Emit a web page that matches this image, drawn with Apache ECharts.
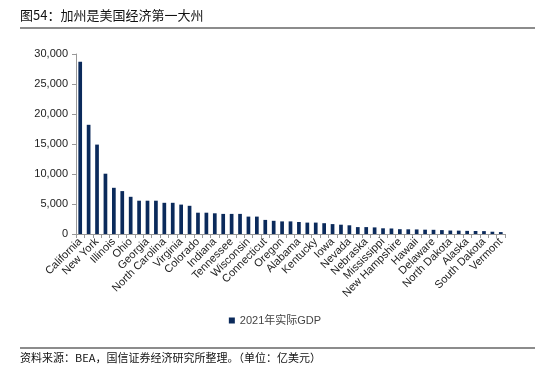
<!DOCTYPE html>
<html><head><meta charset="utf-8">
<script src="https://cdn.jsdelivr.net/npm/echarts@6/dist/echarts.min.js"></script>
<style>html,body{margin:0;padding:0;background:#fff}#c{width:550px;height:373px}</style>
</head><body><div id="c"></div>
<script>
const states = ["California","Texas","New York","Florida","Illinois","Pennsylvania","Ohio","Washington","Georgia","New Jersey","North Carolina","Massachusetts","Virginia","Michigan","Colorado","Arizona","Indiana","Maryland","Tennessee","Minnesota","Wisconsin","Missouri","Connecticut","South Carolina","Oregon","Louisiana","Alabama","Utah","Kentucky","Oklahoma","Iowa","Kansas","Nevada","Arkansas","Nebraska","District of Columbia","Mississippi","New Mexico","New Hampshire","Idaho","Hawaii","West Virginia","Delaware","Maine","North Dakota","Rhode Island","Alaska","Montana","South Dakota","Wyoming","Vermont"];
const gdp2021 = [28700,18200,14900,10050,7700,7150,6200,5550,5550,5550,5200,5200,4900,4700,3550,3550,3450,3350,3350,3350,2900,2900,2350,2200,2100,2100,2000,1900,1900,1800,1650,1550,1450,1150,1150,1100,950,920,800,780,760,720,700,650,580,560,520,500,480,380,320];
const yTicks = [0,5000,10000,15000,20000,25000,30000];
const seriesName = "2021年实际GDP";

const chart = echarts.init(document.getElementById('c'));
chart.setOption({
  animation:false,
  backgroundColor:'#fff',
  textStyle:{fontFamily:'"Liberation Sans", Arial, sans-serif'},
  grid:{left:76,right:45,top:54,bottom:139,containLabel:false},
  legend:{
    data:[seriesName],bottom:42,left:'center',
    icon:'rect',itemWidth:6,itemHeight:6,itemGap:4,
    textStyle:{fontSize:11,color:'#444',fontFamily:'"Liberation Sans", Arial, "Noto Sans CJK SC", sans-serif'}
  },
  xAxis:{
    type:'category',data:states,
    axisLine:{lineStyle:{color:'#999'}},
    axisTick:{show:true,alignWithLabel:false,interval:0,length:4,lineStyle:{color:'#999'}},
    axisLabel:{interval:1,rotate:45,fontSize:11,color:'#222',margin:6}
  },
  yAxis:{
    type:'value',min:yTicks[0],max:yTicks[yTicks.length-1],interval:5000,
    axisLine:{show:true,lineStyle:{color:'#999'}},
    axisTick:{show:true,length:4,lineStyle:{color:'#999'}},
    splitLine:{show:false},
    axisLabel:{fontSize:11,color:'#222',margin:8,
      formatter:v=>v.toLocaleString('en-US')}
  },
  series:[{name:seriesName,type:'bar',data:gdp2021,barWidth:'44%',
    itemStyle:{color:'#0b2a5b'}}],
  graphic:[
    {type:'text',left:20,top:9,style:{text:'图54：加州是美国经济第一大州',fontSize:13,fontWeight:'normal',fill:'#111',fontFamily:'"Noto Sans CJK SC", sans-serif'}},
    {type:'rect',shape:{x:20,y:27,width:515,height:2},style:{fill:'#8c8c8c'}},
    {type:'rect',shape:{x:20,y:347,width:515,height:2},style:{fill:'#8c8c8c'}},
    {type:'text',left:20,top:352,style:{text:'资料来源：BEA，国信证券经济研究所整理。（单位：亿美元）',fontSize:11,fill:'#111',fontFamily:'"Noto Sans CJK SC", sans-serif'}}
  ]
});
</script></body></html>
